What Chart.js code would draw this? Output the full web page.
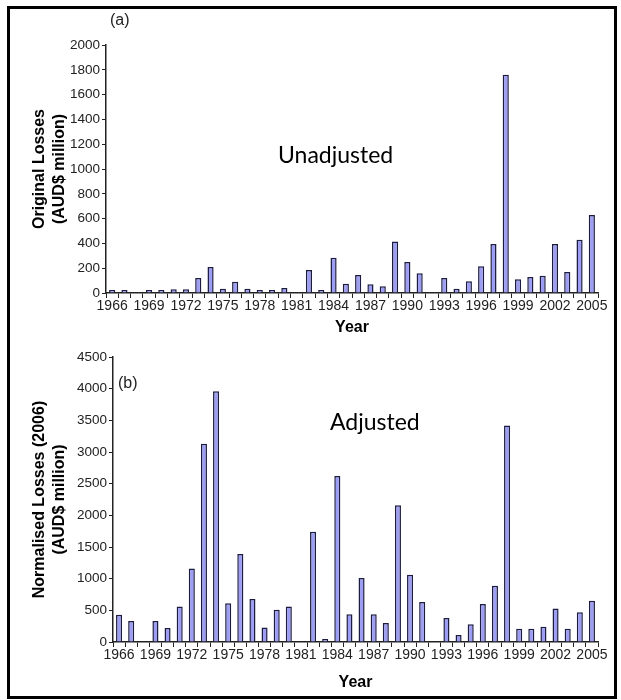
<!DOCTYPE html>
<html>
<head>
<meta charset="utf-8">
<script src="https://cdn.jsdelivr.net/npm/chart.js@4"></script>
<style>
  body { margin: 0; background: #fff; }
  #wrap { position: relative; width: 621px; height: 700px; overflow: hidden; }
  #frame { position: absolute; left: 7px; top: 6px; width: 604px; height: 687px; border: 3px solid #000; }
  canvas { position: absolute; left: 0; }
  #c1 { top: 0; }
  #c2 { top: 345px; }
  .note { position: absolute; font-family: "Liberation Sans", Arial, sans-serif; font-size: 16px; color: #222; }
  .big { position: absolute; font-family: Lato, "Open Sans", sans-serif; font-size: 23px; color: #000; }
</style>
</head>
<body>
<div id="wrap">
  <canvas id="c1" width="621" height="345"></canvas>
  <canvas id="c2" width="621" height="355"></canvas>
  <div id="frame"></div>
  <div class="note" style="left:110px; top:11px;">(a)</div>
  <div class="note" style="left:118px; top:374px;">(b)</div>
  <div class="big" style="left:278px; top:140px;">Unadjusted</div>
  <div class="big" style="left:330px; top:407px;">Adjusted</div>
</div>
<script>
const YEARS = [];
for (let y = 1966; y <= 2005; y++) YEARS.push(String(y));

// Original losses, AUD$ million (null = no bar)
const ORIGINAL = [10, 5, null, 10, 5, 30, 30, 120, 210, 35,
                  90, 35, 15, 25, 40, null, 185, 5, 285, 75,
                  145, 70, 55, 415, 250, 160, null, 120, 35, 95,
                  215, 395, 1760, 110, 130, 140, 395, 170, 430, 630];

// Normalised losses (2006), AUD$ million
const NORMALISED = [430, 330, null, 330, 220, 560, 1160, 3130, 3960, 610,
                    1390, 680, 230, 510, 560, null, 1740, 20, 2620, 440,
                    1010, 440, 300, 2160, 1060, 630, null, 380, 110, 280,
                    600, 890, 3420, 210, 210, 240, 530, 210, 470, 650];

const BAR_FILL = "#9d9df3";
const BAR_EDGE = "#1c1c40";
const INK = "#222";
const xTickFont = { family: "'Liberation Sans', Arial, sans-serif", size: 14 };
const yTickFont = { family: "'Liberation Sans', Arial, sans-serif", size: 13.5 };
const titleFont = { family: "'Liberation Sans', Arial, sans-serif", size: 16, weight: "bold", lineHeight: 1.25 };

function makeChart(el, values, yMax, yStep, yTitle, box) {
    return new Chart(el, {
        type: "bar",
        data: {
            labels: YEARS,
            datasets: [{
                data: values,
                backgroundColor: BAR_FILL,
                borderColor: BAR_EDGE,
                borderWidth: 1.5,
                barPercentage: 0.5,
                categoryPercentage: 1,
                minBarLength: 3
            }]
        },
        options: {
            responsive: false,
            animation: false,
            layout: { padding: box.pad },
            plugins: { legend: { display: false }, tooltip: { enabled: false } },
            scales: {
                x: {
                    afterFit: s => { s.height = box.xh; },
                    grid: { display: true, drawOnChartArea: false, tickLength: 5, color: INK, offset: true },
                    border: { color: INK, width: 1.5 },
                    ticks: {
                        autoSkip: false, maxRotation: 0, color: INK, font: xTickFont, padding: 0,
                        callback: function (v, i) { return i % 3 === 0 ? this.getLabelForValue(v) : ""; }
                    },
                    title: { display: true, text: "Year", color: "#000", font: { ...titleFont, lineHeight: 1.2 }, padding: { top: 0, bottom: 0 } }
                },
                y: {
                    min: 0, max: yMax,
                    afterFit: s => { s.width = box.yw; },
                    grid: { display: true, drawOnChartArea: false, tickLength: 4, color: INK },
                    border: { color: INK, width: 1.5 },
                    ticks: { stepSize: yStep, color: INK, font: yTickFont, padding: 2, callback: v => String(v) },
                    title: { display: true, text: yTitle, color: "#000", font: titleFont, padding: { top: 0, bottom: 0 } }
                }
            }
        }
    });
}

makeChart(document.getElementById("c1"), ORIGINAL, 2000, 200,
    ["Original Losses", "(AUD$ million)"],
    { pad: { left: 30, right: 23, top: 45, bottom: 8 }, yw: 76, xh: 44 });

makeChart(document.getElementById("c2"), NORMALISED, 4500, 500,
    ["Normalised Losses (2006)", "(AUD$ million)"],
    { pad: { left: 30, right: 23, top: 12, bottom: 8 }, yw: 83, xh: 50 });
</script>
</body>
</html>
